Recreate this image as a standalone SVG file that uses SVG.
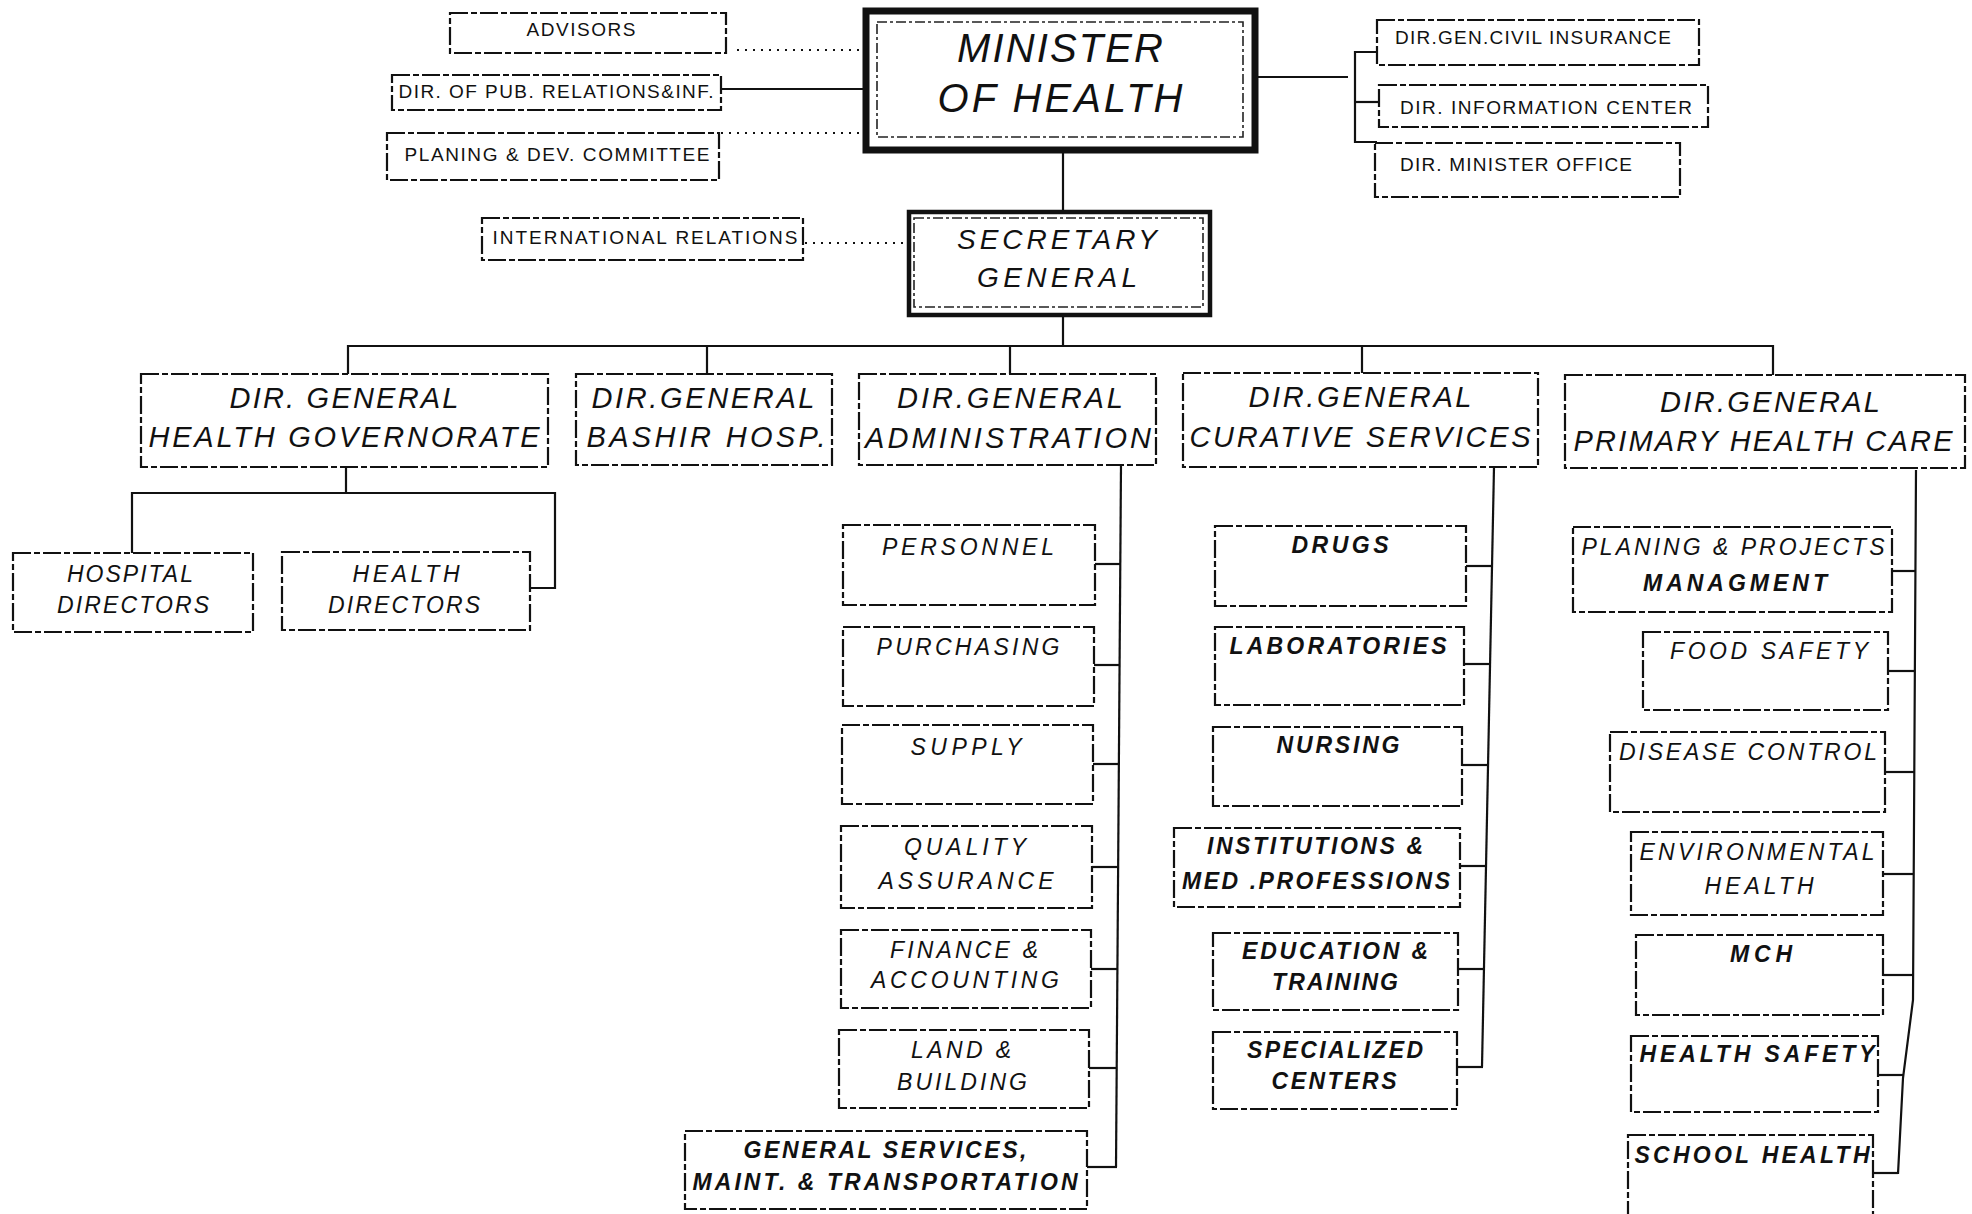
<svg xmlns="http://www.w3.org/2000/svg" width="1972" height="1214" viewBox="0 0 1972 1214">
<style>
text{font-family:"Liberation Sans",Arial,sans-serif;fill:#111;text-anchor:middle}
.box{fill:#fff;stroke:#111;stroke-width:2.2;stroke-dasharray:18 3 6 3}
.thick{fill:#fff;stroke:#111;stroke-width:7}
.thick2{fill:#fff;stroke:#111;stroke-width:4.5}
.inner{fill:none;stroke:#222;stroke-width:1.6;stroke-dasharray:10 3 3 3}
.s{font-size:19px}
.big{font-size:40px;font-style:italic}
.sec{font-size:28px;font-style:italic}
.dg{font-size:29px;font-style:italic}
.c{font-size:23px;font-style:italic}
.b{font-weight:bold}
.ln{fill:none;stroke:#111;stroke-width:2.2}
.dot{fill:none;stroke:#111;stroke-width:2;stroke-dasharray:2 6}
</style>
<rect width="1972" height="1214" fill="#fff"/>

<g id="connectors">
  <line class="dot" x1="737" y1="50" x2="861" y2="50"/>
  <line class="ln" x1="721" y1="89" x2="864" y2="89"/>
  <line class="dot" x1="721" y1="133" x2="860" y2="133"/>
  <line class="dot" x1="805" y1="243" x2="906" y2="243"/>
  <polyline class="ln" points="1258,77 1348,77"/>
  <polyline class="ln" points="1377,52 1355,52 1355,142 1377,142"/>
  <line class="ln" x1="1355" y1="102" x2="1379" y2="102"/>
  <line class="ln" x1="1063" y1="153" x2="1063" y2="210"/>
  <line class="ln" x1="1063" y1="317" x2="1063" y2="346"/>
  <polyline class="ln" points="348,374 348,346 1773,346 1773,375"/>
  <line class="ln" x1="707" y1="346" x2="707" y2="374"/>
  <line class="ln" x1="1010" y1="346" x2="1010" y2="374"/>
  <line class="ln" x1="1362" y1="346" x2="1362" y2="373"/>
  <line class="ln" x1="346" y1="468" x2="346" y2="493"/>
  <polyline class="ln" points="132,553 132,493 555,493 555,588 530,588"/>
  <polyline class="ln" points="1121,465 1116,1167"/>
  <line class="ln" x1="1095" y1="564" x2="1120" y2="564"/>
  <line class="ln" x1="1094" y1="665" x2="1120" y2="665"/>
  <line class="ln" x1="1093" y1="764" x2="1119" y2="764"/>
  <line class="ln" x1="1092" y1="867" x2="1118" y2="867"/>
  <line class="ln" x1="1091" y1="969" x2="1118" y2="969"/>
  <line class="ln" x1="1089" y1="1068" x2="1117" y2="1068"/>
  <line class="ln" x1="1087" y1="1167" x2="1117" y2="1167"/>
  <polyline class="ln" points="1494,467 1482,1067"/>
  <line class="ln" x1="1466" y1="566" x2="1492" y2="566"/>
  <line class="ln" x1="1464" y1="664" x2="1490" y2="664"/>
  <line class="ln" x1="1462" y1="765" x2="1488" y2="765"/>
  <line class="ln" x1="1460" y1="866" x2="1486" y2="866"/>
  <line class="ln" x1="1458" y1="969" x2="1484" y2="969"/>
  <line class="ln" x1="1457" y1="1067" x2="1483" y2="1067"/>
  <polyline class="ln" points="1916,470 1913,1000 1903,1078 1898,1174"/>
  <line class="ln" x1="1892" y1="571" x2="1915" y2="571"/>
  <line class="ln" x1="1888" y1="671" x2="1915" y2="671"/>
  <line class="ln" x1="1885" y1="772" x2="1914" y2="772"/>
  <line class="ln" x1="1883" y1="874" x2="1914" y2="874"/>
  <line class="ln" x1="1883" y1="975" x2="1913" y2="975"/>
  <line class="ln" x1="1878" y1="1075" x2="1903" y2="1075"/>
  <line class="ln" x1="1873" y1="1173" x2="1898" y2="1173"/>
</g>

<g id="minister">
  <rect class="thick" x="866" y="11" width="389" height="139"/>
  <rect class="inner" x="877" y="22" width="366" height="115"/>
  <text class="big" x="1060" y="62" textLength="206" lengthAdjust="spacing">MINISTER</text>
  <text class="big" x="1060" y="112" textLength="245" lengthAdjust="spacing">OF HEALTH</text>
</g>
<g id="secretary">
  <rect class="thick2" x="909" y="212" width="301" height="103"/>
  <rect class="inner" x="914" y="218" width="289" height="89"/>
  <text class="sec" x="1057" y="249" textLength="200" lengthAdjust="spacing">SECRETARY</text>
  <text class="sec" x="1057" y="287" textLength="160" lengthAdjust="spacing">GENERAL</text>
</g>

<g id="advisors">
  <rect class="box" x="450" y="13" width="276" height="40"/>
  <text class="s" x="581" y="36" textLength="109" lengthAdjust="spacing">ADVISORS</text>
</g>
<g id="pub-relations">
  <rect class="box" x="392" y="75" width="329" height="35"/>
  <text class="s" x="556" y="98" textLength="315" lengthAdjust="spacing">DIR. OF PUB. RELATIONS&amp;INF.</text>
</g>
<g id="planning-committee">
  <rect class="box" x="387" y="133" width="332" height="47"/>
  <text class="s" x="557" y="161" textLength="305" lengthAdjust="spacing">PLANING &amp; DEV. COMMITTEE</text>
</g>
<g id="international">
  <rect class="box" x="482" y="218" width="321" height="42"/>
  <text class="s" x="645" y="244" textLength="305" lengthAdjust="spacing">INTERNATIONAL RELATIONS</text>
</g>
<g id="civil-insurance">
  <rect class="box" x="1377" y="20" width="322" height="45"/>
  <text class="s" x="1533" y="44" textLength="276" lengthAdjust="spacing">DIR.GEN.CIVIL INSURANCE</text>
</g>
<g id="information-center">
  <rect class="box" x="1379" y="85" width="329" height="42"/>
  <text class="s" x="1546" y="114" textLength="292" lengthAdjust="spacing">DIR. INFORMATION CENTER</text>
</g>
<g id="minister-office">
  <rect class="box" x="1375" y="143" width="305" height="54"/>
  <text class="s" x="1516" y="171" textLength="232" lengthAdjust="spacing">DIR. MINISTER OFFICE</text>
</g>

<g id="dg-health-governorate">
  <rect class="box" x="141" y="374" width="407" height="93"/>
  <text class="dg" x="344" y="408" textLength="229" lengthAdjust="spacing">DIR. GENERAL</text>
  <text class="dg" x="344" y="447" textLength="391" lengthAdjust="spacing">HEALTH GOVERNORATE</text>
</g>
<g id="dg-bashir">
  <rect class="box" x="576" y="374" width="256" height="91"/>
  <text class="dg" x="703" y="408" textLength="223" lengthAdjust="spacing">DIR.GENERAL</text>
  <text class="dg" x="706" y="447" textLength="239" lengthAdjust="spacing">BASHIR HOSP.</text>
</g>
<g id="dg-administration">
  <rect class="box" x="859" y="374" width="297" height="91"/>
  <text class="dg" x="1010" y="408" textLength="226" lengthAdjust="spacing">DIR.GENERAL</text>
  <text class="dg" x="1008" y="448" textLength="286" lengthAdjust="spacing">ADMINISTRATION</text>
</g>
<g id="dg-curative">
  <rect class="box" x="1183" y="373" width="355" height="94"/>
  <text class="dg" x="1360" y="407" textLength="223" lengthAdjust="spacing">DIR.GENERAL</text>
  <text class="dg" x="1360" y="447" textLength="341" lengthAdjust="spacing">CURATIVE SERVICES</text>
</g>
<g id="dg-primary">
  <rect class="box" x="1565" y="375" width="400" height="93"/>
  <text class="dg" x="1770" y="412" textLength="220" lengthAdjust="spacing">DIR.GENERAL</text>
  <text class="dg" x="1763" y="451" textLength="379" lengthAdjust="spacing">PRIMARY HEALTH CARE</text>
</g>

<g id="hospital-directors">
  <rect class="box" x="13" y="553" width="240" height="79"/>
  <text class="c" x="130" y="582" textLength="126" lengthAdjust="spacing">HOSPITAL</text>
  <text class="c" x="133" y="613" textLength="152" lengthAdjust="spacing">DIRECTORS</text>
</g>
<g id="health-directors">
  <rect class="box" x="282" y="552" width="248" height="78"/>
  <text class="c" x="406" y="582" textLength="107" lengthAdjust="spacing">HEALTH</text>
  <text class="c" x="404" y="613" textLength="152" lengthAdjust="spacing">DIRECTORS</text>
</g>

<g id="personnel">
  <rect class="box" x="843" y="525" width="252" height="80"/>
  <text class="c" x="968" y="555" textLength="172" lengthAdjust="spacing">PERSONNEL</text>
</g>
<g id="purchasing">
  <rect class="box" x="843" y="627" width="251" height="79"/>
  <text class="c" x="968" y="655" textLength="183" lengthAdjust="spacing">PURCHASING</text>
</g>
<g id="supply">
  <rect class="box" x="842" y="725" width="251" height="79"/>
  <text class="c" x="966" y="755" textLength="111" lengthAdjust="spacing">SUPPLY</text>
</g>
<g id="quality">
  <rect class="box" x="841" y="826" width="251" height="82"/>
  <text class="c" x="965" y="855" textLength="122" lengthAdjust="spacing">QUALITY</text>
  <text class="c" x="966" y="889" textLength="175" lengthAdjust="spacing">ASSURANCE</text>
</g>
<g id="finance">
  <rect class="box" x="841" y="930" width="250" height="78"/>
  <text class="c" x="964" y="958" textLength="148" lengthAdjust="spacing">FINANCE &amp;</text>
  <text class="c" x="965" y="988" textLength="188" lengthAdjust="spacing">ACCOUNTING</text>
</g>
<g id="land">
  <rect class="box" x="839" y="1030" width="250" height="78"/>
  <text class="c" x="961" y="1058" textLength="100" lengthAdjust="spacing">LAND &amp;</text>
  <text class="c" x="962" y="1090" textLength="130" lengthAdjust="spacing">BUILDING</text>
</g>
<g id="general-services">
  <rect class="box" x="685" y="1131" width="402" height="78"/>
  <text class="c b" x="885" y="1158" textLength="283" lengthAdjust="spacing">GENERAL SERVICES,</text>
  <text class="c b" x="885" y="1190" textLength="385" lengthAdjust="spacing">MAINT. &amp; TRANSPORTATION</text>
</g>

<g id="drugs">
  <rect class="box" x="1215" y="526" width="251" height="80"/>
  <text class="c b" x="1340" y="553" textLength="97" lengthAdjust="spacing">DRUGS</text>
</g>
<g id="laboratories">
  <rect class="box" x="1215" y="627" width="249" height="78"/>
  <text class="c b" x="1338" y="654" textLength="217" lengthAdjust="spacing">LABORATORIES</text>
</g>
<g id="nursing">
  <rect class="box" x="1213" y="727" width="249" height="79"/>
  <text class="c b" x="1338" y="753" textLength="123" lengthAdjust="spacing">NURSING</text>
</g>
<g id="institutions">
  <rect class="box" x="1174" y="828" width="286" height="79"/>
  <text class="c b" x="1315" y="854" textLength="216" lengthAdjust="spacing">INSTITUTIONS &amp;</text>
  <text class="c b" x="1316" y="889" textLength="268" lengthAdjust="spacing">MED .PROFESSIONS</text>
</g>
<g id="education">
  <rect class="box" x="1213" y="933" width="245" height="77"/>
  <text class="c b" x="1335" y="959" textLength="186" lengthAdjust="spacing">EDUCATION &amp;</text>
  <text class="c b" x="1335" y="990" textLength="126" lengthAdjust="spacing">TRAINING</text>
</g>
<g id="specialized">
  <rect class="box" x="1213" y="1032" width="244" height="77"/>
  <text class="c b" x="1335" y="1058" textLength="176" lengthAdjust="spacing">SPECIALIZED</text>
  <text class="c b" x="1334" y="1089" textLength="125" lengthAdjust="spacing">CENTERS</text>
</g>

<g id="planning-projects">
  <rect class="box" x="1573" y="527" width="319" height="85"/>
  <text class="c" x="1733" y="555" textLength="303" lengthAdjust="spacing">PLANING &amp; PROJECTS</text>
  <text class="c b" x="1735" y="591" textLength="184" lengthAdjust="spacing">MANAGMENT</text>
</g>
<g id="food-safety">
  <rect class="box" x="1643" y="632" width="245" height="78"/>
  <text class="c" x="1769" y="659" textLength="198" lengthAdjust="spacing">FOOD SAFETY</text>
</g>
<g id="disease-control">
  <rect class="box" x="1610" y="732" width="275" height="80"/>
  <text class="c" x="1748" y="760" textLength="258" lengthAdjust="spacing">DISEASE CONTROL</text>
</g>
<g id="environmental">
  <rect class="box" x="1631" y="832" width="252" height="83"/>
  <text class="c" x="1757" y="860" textLength="235" lengthAdjust="spacing">ENVIRONMENTAL</text>
  <text class="c" x="1759" y="894" textLength="109" lengthAdjust="spacing">HEALTH</text>
</g>
<g id="mch">
  <rect class="box" x="1636" y="935" width="247" height="80"/>
  <text class="c b" x="1761" y="962" textLength="62" lengthAdjust="spacing">MCH</text>
</g>
<g id="health-safety">
  <rect class="box" x="1631" y="1036" width="247" height="76"/>
  <text class="c b" x="1757" y="1062" textLength="235" lengthAdjust="spacing">HEALTH SAFETY</text>
</g>
<g id="school-health">
  <rect class="box" x="1628" y="1135" width="245" height="82"/>
  <text class="c b" x="1752" y="1163" textLength="235" lengthAdjust="spacing">SCHOOL HEALTH</text>
</g>
</svg>
